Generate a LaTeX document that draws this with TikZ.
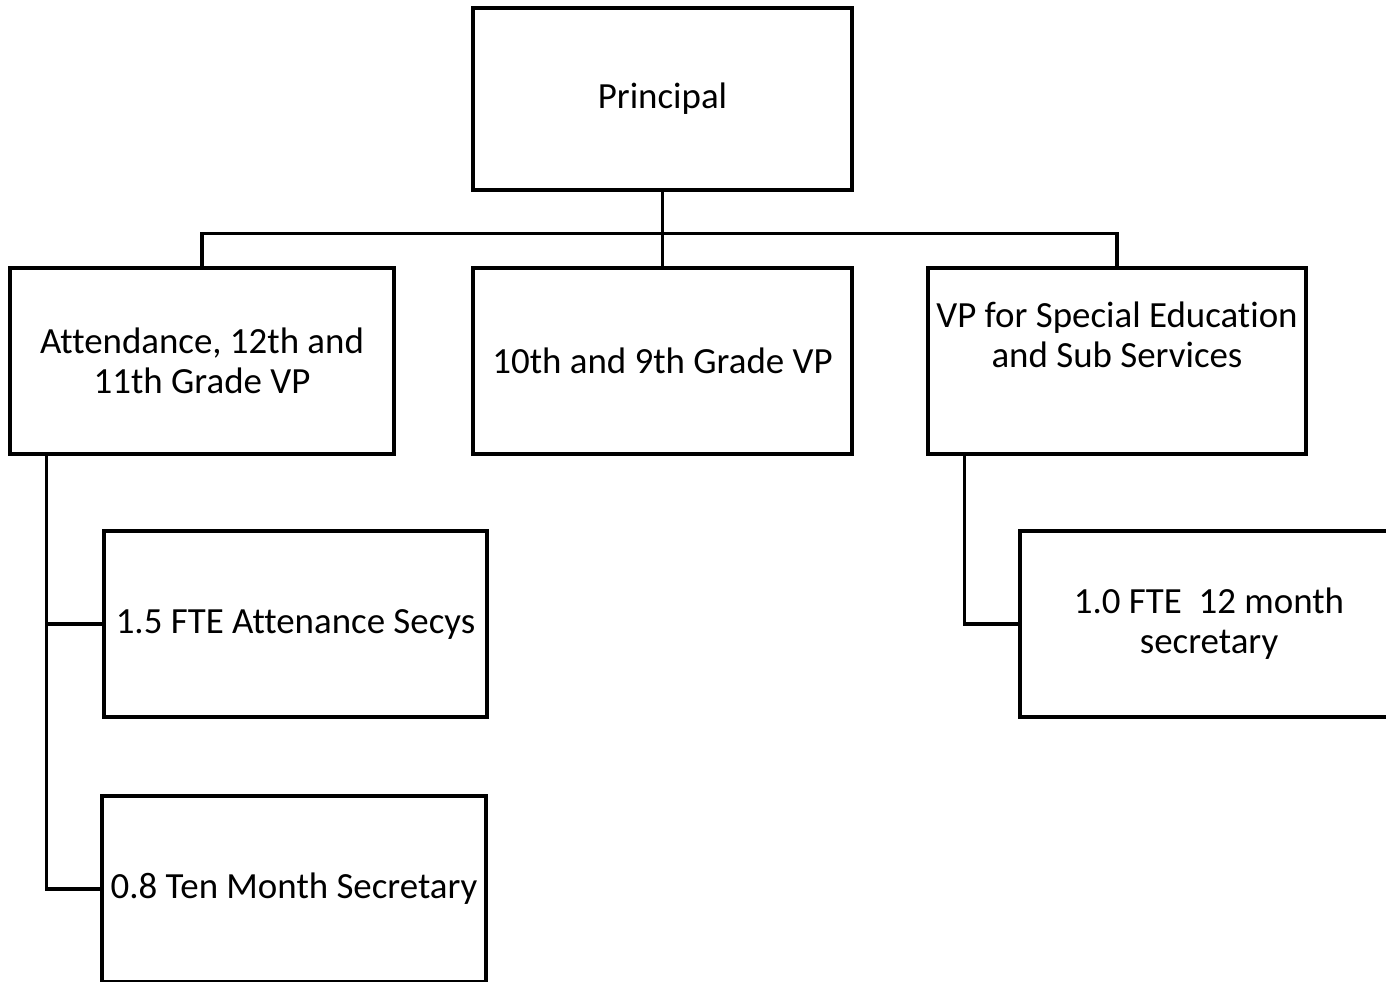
\documentclass[tikz,border=0pt]{standalone}
\usepackage{fontspec}
\setmainfont{Carlito}[Ligatures=NoCommon]
\begin{document}
\begin{tikzpicture}[
    box/.style={draw, line width=1.8pt, rectangle, minimum width=7.6cm, minimum height=3.72cm,
        align=center, font=\fontsize{21}{22.7}\selectfont},
    txt/.style={align=center, font=\fontsize{21}{22.7}\selectfont},
    wire/.style={line width=1.8pt}
    ]
    \useasboundingbox (0,0) rectangle (27.72,-19.64);
    % Top
    \node[box, minimum width=7.58cm, minimum height=3.64cm] (principal) at (13.25,-1.98) {Principal};
    % Vice principals
    \node[box, minimum width=7.68cm] (att) at (4.04,-7.22) {Attendance, 12th and\\11th Grade VP};
    \node[box, minimum width=7.58cm] (tenth) at (13.25,-7.22) {10th and 9th Grade VP};
    \node[box, minimum width=7.56cm] (spec) at (22.34,-7.22) {};
    \node[txt] (spectxt) at ([yshift=0.52cm]spec.center) {VP for Special Education\\and Sub Services};
    % Secretaries
    \node[box, minimum width=7.66cm] (fteA) at (5.91,-12.48) {1.5 FTE Attenance Secys};
    \node[box, minimum width=7.68cm] (ten) at (5.88,-17.78) {0.8 Ten Month Secretary};
    \node[box, minimum width=7.4cm] (fteB) at (24.1,-12.48) {};
    \node[txt] (fteBtxt) at (24.18,-12.48) {1.0 FTE\ \ 12 month\\secretary};
    % Connectors
    \coordinate (bus) at ([yshift=-0.84cm]principal.south);
    \draw[wire] (principal.south) -- (tenth.north);
    \foreach \n in {att,spec} {
        \draw[wire] (bus) -| (\n.north);
    }
    \coordinate (attleg) at ([xshift=0.76cm]att.south west);
    \coordinate (specleg) at ([xshift=0.76cm]spec.south west);
    \foreach \n in {fteA,ten} {
        \draw[wire] (attleg) |- (\n.west);
    }
    \draw[wire] (specleg) |- (fteB.west);
\end{tikzpicture}
\end{document}
